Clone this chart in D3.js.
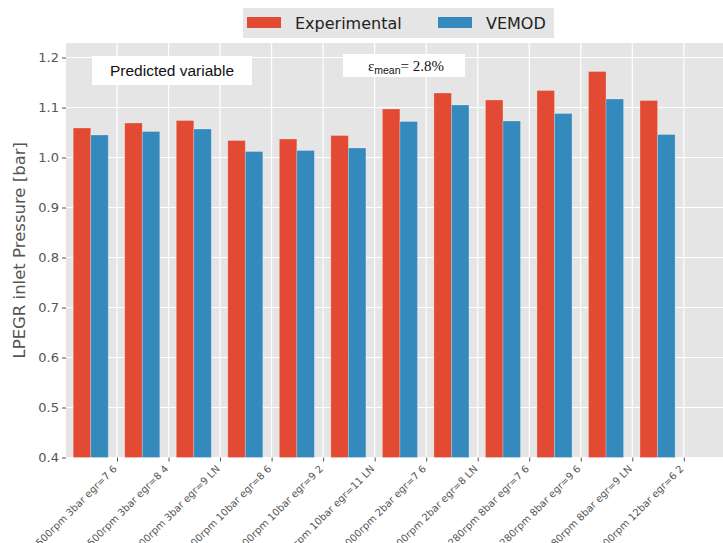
<!DOCTYPE html>
<html>
<head>
<meta charset="utf-8">
<script src="https://cdn.jsdelivr.net/npm/d3@7"></script>
<style>
  html, body { margin: 0; padding: 0; background: #fff; }
  svg { display: block; }
</style>
</head>
<body>
<svg id="chart" width="723" height="543"></svg>
<script>
// Operating points (engine speed, load, EGR rate)
const categories = [
  "1500rpm 3bar egr=7 6",
  "1500rpm 3bar egr=8 4",
  "1500rpm 3bar egr=9 LN",
  "2000rpm 10bar egr=8 6",
  "2000rpm 10bar egr=9 2",
  "2000rpm 10bar egr=11 LN",
  "3000rpm 2bar egr=7 6",
  "3000rpm 2bar egr=8 LN",
  "1280rpm 8bar egr=7 6",
  "1280rpm 8bar egr=9 6",
  "1280rpm 8bar egr=9 LN",
  "2000rpm 12bar egr=6 2"
];
const experimental = [1.059, 1.069, 1.074, 1.034, 1.037, 1.044, 1.097, 1.129, 1.115, 1.134, 1.172, 1.114];
const vemod        = [1.045, 1.052, 1.057, 1.012, 1.014, 1.019, 1.072, 1.105, 1.073, 1.088, 1.117, 1.046];
const yTicks = [0.4, 0.5, 0.6, 0.7, 0.8, 0.9, 1.0, 1.1, 1.2];
const seriesNames = ["Experimental", "VEMOD"];
const seriesColors = ["#E24A33", "#348ABD"];

const svg = d3.select("#chart");
const plot = { left: 66, right: 723, top: 43, bottom: 457.5 };

const x = d3.scaleLinear().domain([-0.99, 11.76]).range([plot.left, plot.right]);
const y = d3.scaleLinear().domain([0.4, 1.229]).range([plot.bottom, plot.top]);

// Panel background
svg.append("rect")
  .attr("x", plot.left).attr("y", plot.top)
  .attr("width", plot.right - plot.left).attr("height", plot.bottom - plot.top)
  .attr("fill", "#E5E5E5");

// Grid
const grid = svg.append("g").attr("stroke", "#fff").attr("stroke-width", 1.2);
grid.selectAll("line.h").data(yTicks).join("line")
  .attr("x1", plot.left).attr("x2", plot.right)
  .attr("y1", d => y(d)).attr("y2", d => y(d));
grid.selectAll("line.v").data(d3.range(categories.length)).join("line")
  .attr("y1", plot.top).attr("y2", plot.bottom)
  .attr("x1", d => x(d)).attr("x2", d => x(d));

// Bars: the two series sit just left of each category tick
const barW = 0.34;
const offsets = [-0.85, -0.51];
[experimental, vemod].forEach((vals, s) => {
  svg.append("g").selectAll("rect").data(vals).join("rect")
    .attr("x", (d, i) => x(i + offsets[s]))
    .attr("width", x(barW) - x(0))
    .attr("y", d => y(d))
    .attr("height", d => y(0.4) - y(d))
    .attr("fill", seriesColors[s])
    .attr("stroke", "rgba(255,255,255,0.3)")
    .attr("stroke-width", 0.8);
});

// Y axis
const yAxis = svg.append("g")
  .attr("transform", `translate(${plot.left},0)`)
  .call(d3.axisLeft(y).tickValues(yTicks).tickFormat(d3.format(".1f")).tickSize(4).tickPadding(3));
yAxis.select(".domain").remove();
yAxis.selectAll(".tick line").attr("stroke", "#555");
yAxis.selectAll(".tick text")
  .attr("fill", "#555").style("font-family", "DejaVu Sans").style("font-size", "13px");

// X axis
const xAxis = svg.append("g")
  .attr("transform", `translate(0,${plot.bottom})`)
  .call(d3.axisBottom(x).tickValues(d3.range(categories.length)).tickFormat(i => categories[i]).tickSize(4));
xAxis.select(".domain").remove();
xAxis.selectAll(".tick line").attr("stroke", "#555");
xAxis.selectAll(".tick text")
  .attr("fill", "#555").style("font-family", "DejaVu Sans").style("font-size", "10px")
  .attr("text-anchor", "end")
  .attr("dy", null).attr("y", 0)
  .attr("transform", "translate(0,12) rotate(-45)");

// Y axis title
svg.append("text")
  .attr("transform", `translate(25,${(plot.top + plot.bottom) / 2}) rotate(-90)`)
  .attr("text-anchor", "middle")
  .attr("fill", "#555")
  .style("font-family", "DejaVu Sans").style("font-size", "16.5px")
  .text("LPEGR inlet Pressure [bar]");

// Legend
const legend = svg.append("g");
legend.append("rect").attr("x", 243).attr("y", 8).attr("width", 311).attr("height", 30).attr("fill", "#E5E5E5");
const legendX = [247, 438];
seriesNames.forEach((name, s) => {
  legend.append("rect").attr("x", legendX[s]).attr("y", 17).attr("width", 34).attr("height", 11)
    .attr("fill", seriesColors[s]);
  legend.append("text").attr("x", legendX[s] + 48).attr("y", 29)
    .attr("fill", "#222")
    .style("font-family", "DejaVu Sans").style("font-size", "16px")
    .text(name);
});

// Annotation boxes
svg.append("rect").attr("x", 92).attr("y", 56).attr("width", 160).attr("height", 29).attr("fill", "#fff");
svg.append("text").attr("x", 172).attr("y", 76).attr("text-anchor", "middle")
  .attr("fill", "#111").style("font-family", "Liberation Sans").style("font-size", "15.5px")
  .text("Predicted variable");

svg.append("rect").attr("x", 343).attr("y", 54).attr("width", 122).attr("height", 23).attr("fill", "#fff");
const eps = svg.append("text").attr("x", 406).attr("y", 71).attr("text-anchor", "middle")
  .attr("fill", "#111").style("font-family", "Liberation Serif").style("font-size", "15px");
eps.append("tspan").text("ε");
eps.append("tspan").attr("dy", 3).style("font-family", "Liberation Sans").style("font-size", "10.5px").text("mean");
eps.append("tspan").attr("dy", -3).text("= 2.8%");
</script>
</body>
</html>
